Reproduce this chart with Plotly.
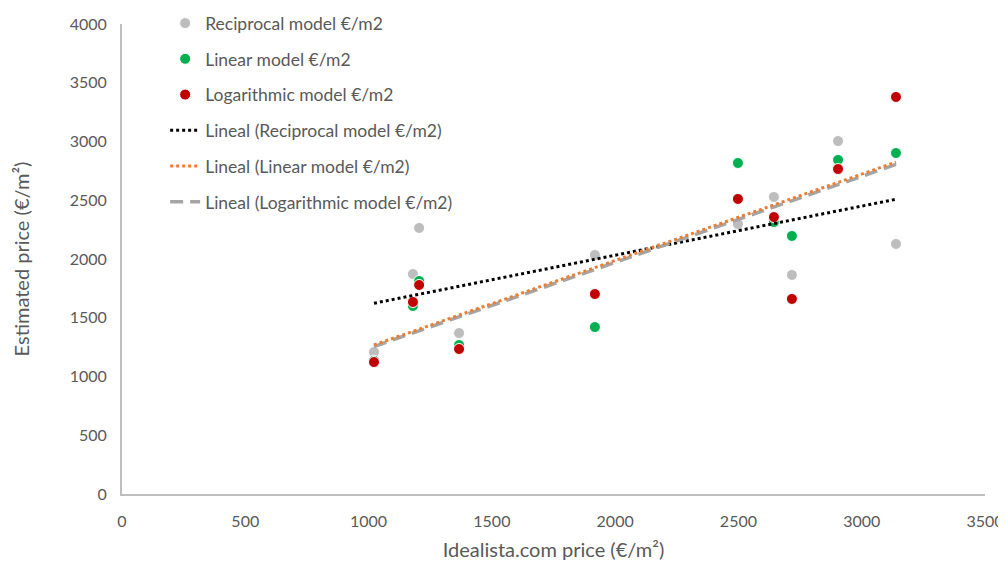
import numpy as np
import plotly.graph_objects as go

idealista = [1022, 1180, 1205, 1367, 1918, 2498, 2644, 2717, 2904, 3139]
reciprocal = [1208, 1872, 2264, 1370, 2034, 2298, 2528, 1864, 3004, 2128]
linear = [1135, 1600, 1813, 1268, 1421, 2817, 2315, 2196, 2843, 2902]
logarithmic = [1123, 1634, 1779, 1234, 1702, 2511, 2357, 1660, 2766, 3379]

names = ["Reciprocal model €/m2", "Linear model €/m2", "Logarithmic model €/m2"]
marker_colors = ["#BDBDBD", "#00B050", "#C00000"]
series = [reciprocal, linear, logarithmic]

font_family = "Lato, Carlito, 'Open Sans', sans-serif"
text_color = "#595959"

fig = go.Figure()

for i, (nm, col, ys) in enumerate(zip(names, marker_colors, series)):
    fig.add_trace(go.Scatter(
        x=idealista, y=ys, mode="markers", name=nm,
        marker=dict(size=11, color=col, line=dict(color="white", width=1)),
        legendgroup=f"g{i}", legendrank=i + 1,
    ))

trend_styles = [
    dict(color="#000000", width=3, dash="dot"),
    dict(color="#ED7D31", width=3, dash="dot"),
    dict(color="#A5A5A5", width=3.5, dash="13px,7px"),
]
xs = np.array([min(idealista), max(idealista)], dtype=float)
draw_order = [0, 2, 1]
for i in draw_order:
    slope, intercept = np.polyfit(idealista, series[i], 1)
    fig.add_trace(go.Scatter(
        x=xs, y=slope * xs + intercept, mode="lines",
        name=f"Lineal ({names[i]})",
        line=trend_styles[i],
        legendgroup=f"t{i}", legendrank=4 + i,
    ))

fig.update_layout(
    width=998, height=553,
    margin=dict(l=114, r=21, t=16, b=67, autoexpand=False),
    plot_bgcolor="white", paper_bgcolor="white",
    font=dict(family=font_family, color=text_color, size=16),
    showlegend=True,
    legend=dict(
        x=0.050, y=1.040, xanchor="left", yanchor="top",
        bgcolor="rgba(0,0,0,0)", font=dict(size=17.5, color=text_color),
        tracegroupgap=10, itemwidth=30,
    ),
    xaxis=dict(
        range=[0, 3500], dtick=500, showgrid=False, zeroline=False,
        showline=True, linecolor="#BFBFBF", linewidth=2,
        ticks="", ticklabelstandoff=12, automargin=False,
        tickfont=dict(size=16, color=text_color),
        title=dict(text="Idealista.com price (€/m²)", font=dict(size=20, color=text_color), standoff=14),
    ),
    yaxis=dict(
        range=[0, 4000], dtick=500, showgrid=False, zeroline=False,
        showline=True, linecolor="#BFBFBF", linewidth=2,
        ticks="", ticklabelstandoff=10, automargin=False,
        tickfont=dict(size=16, color=text_color),
        title=dict(text="Estimated price (€/m²)", font=dict(size=20, color=text_color), standoff=35),
    ),
)

fig.write_html("out.html")
